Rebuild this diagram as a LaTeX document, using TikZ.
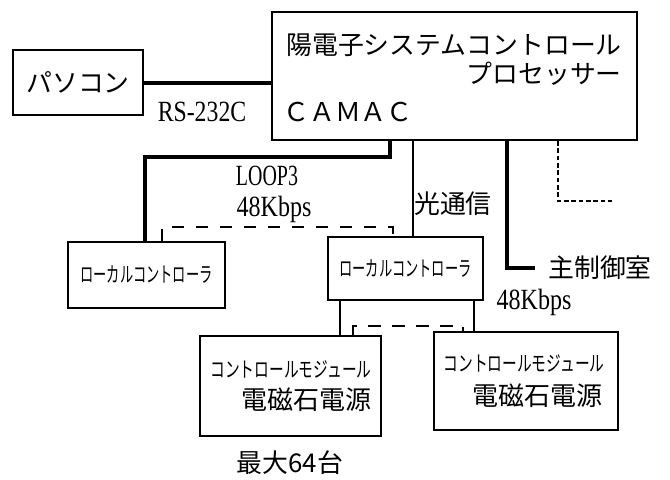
\documentclass[tikz,border=0pt]{standalone}
\usepackage{fontspec}
\setmainfont{Liberation Serif}
\newfontfamily\jp{Noto Sans CJK JP}
\begin{document}
\begin{tikzpicture}[x=0.75pt,y=-0.75pt,
  box/.style={draw,line width=1.4pt,inner sep=0pt},
  jpbig/.style={font=\jp\fontsize{19.4pt}{20pt}\selectfont,inner sep=0pt},
  jpmid/.style={font=\jp\fontsize{19.5pt}{20pt}\selectfont,inner sep=0pt},
  jpsmall/.style={font=\jp\fontsize{16pt}{17pt}\selectfont,inner sep=0pt},
  lat/.style={font=\fontsize{22pt}{23pt}\selectfont,inner sep=0pt},
  thickline/.style={line width=3pt},
  medline/.style={line width=2.2pt},
  thinline/.style={line width=1.5pt},
  dashline/.style={line width=2.2pt,dash pattern=on 9pt off 9pt},
  dashthin/.style={line width=1.5pt,dash pattern=on 10pt off 8pt},
  dotline/.style={line width=1.8pt,dash pattern=on 3.5pt off 2pt}]
\useasboundingbox (0,0) rectangle (670,479);
% boxes
\node[box,minimum width=97.5pt,minimum height=48.75pt,jpbig] (pc) at (78,82.5) {パソコン};
\node[box,minimum width=273.75pt,minimum height=96pt] (main) at (454.5,76) {};
\node[box,minimum width=117.75pt,minimum height=49.5pt,jpsmall] (lc1) at (146.5,275) {\scalebox{0.62}[1]{ローカルコントローラ}};
\node[box,minimum width=116.25pt,minimum height=47.25pt,jpsmall] (lc2) at (405.5,268.5) {\scalebox{0.62}[1]{ローカルコントローラ}};
\node[box,minimum width=135.75pt,minimum height=75pt] (m1) at (290.5,386) {};
\node[box,minimum width=138pt,minimum height=73.5pt] (m2) at (526,381) {};
% main box texts
\node[jpbig,anchor=west] (t1) at (286,45) {陽電子システムコントロール};
\node[jpbig,anchor=east] (t2) at (622,74) {プロセッサー};
\node[jpbig,anchor=west] (t3) at (283,112) {ＣＡＭＡＣ};
% module texts
\node[jpsmall] (m1a) at (291,369) {\scalebox{0.69}[1]{コントロールモジュール}};
\node[jpmid] (m1b) at (306,400) {電磁石電源};
\node[jpsmall] (m2a) at (524,363) {\scalebox{0.69}[1]{コントロールモジュール}};
\node[jpmid] (m2b) at (537,396) {電磁石電源};
% labels
\node[lat] (rs) at (202,112) {\scalebox{0.81}[1]{RS-232C}};
\node[lat] (loop) at (267,176) {\scalebox{0.68}[1]{LOOP3}};
\node[lat] (kb1) at (274,209) {\scalebox{0.82}[1]{48Kbps}};
\node[lat] (kb2) at (534,302) {\scalebox{0.82}[1]{48Kbps}};
\node[jpbig] (opt) at (453,204) {光通信};
\node[jpbig] (mx) at (290,463) {最大64台};
\coordinate (ce) at (535,268);
\node[jpbig,anchor=west] (ctrl) at (548,268) {主制御室};
\coordinate (de) at (612,201);
% connectors
\draw[thickline] (pc.east) -- (pc.east -| main.west);
\draw[thickline] (main.south -| 390,0) |- (145,157) -- (lc1.north -| 145,0);
\draw[dashline] (lc1.north -| 162,0) |- (393,227) -- (lc2.north -| 393,0);
\draw[medline] (main.south -| 413,0) -- (lc2.north -| 413,0);
\draw[thickline] (main.south -| 507,0) |- (ce);
\draw[dotline] (main.south -| 558,0) |- (de);
\draw[thinline] (lc2.south -| 340,0) -- (m1.north -| 340,0);
\draw[thinline] (lc2.south -| 474,0) -- (m2.north -| 474,0);
\draw[dashthin] (m1.north -| 353,0) |- (463,326) -- (m2.north -| 463,0);
\end{tikzpicture}
\end{document}
